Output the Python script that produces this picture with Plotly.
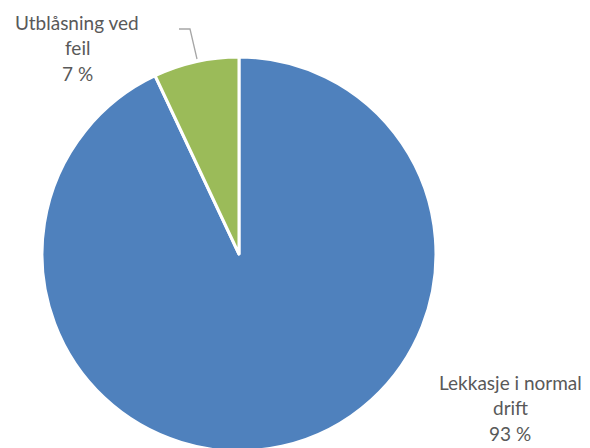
import plotly.graph_objects as go

# Data
categories = ["Lekkasje i normal drift", "Utblåsning ved feil"]
values = [93, 7]
label_lines = [["Lekkasje i normal", "drift"], ["Utblåsning ved", "feil"]]
percent_text = ["93 %", "7 %"]
colors = ["#4F81BD", "#9BBB59"]

W, H = 590, 448
OFF = 8  # page body margin offset


def px(x, y):
    return (x - OFF) / W, 1 - (y - OFF) / H


fig = go.Figure(go.Pie(
    labels=categories,
    values=values,
    sort=False,
    direction="clockwise",
    rotation=0,
    marker=dict(colors=colors, line=dict(color="white", width=3)),
    textinfo="none",
    hoverinfo="label+percent",
    showlegend=False,
    domain=dict(x=[0.0576, 0.7254], y=[0.0112, 0.8906]),
))

label_pos = [(510, 382), (77, 22)]
line_gap = 25.5
font = dict(family="Lato, Open Sans, sans-serif", size=19, color="#595959")
for (cx, cy), lines, pct in zip(label_pos, label_lines, percent_text):
    for i, t in enumerate(lines + [pct]):
        x, y = px(cx, cy + i * line_gap)
        fig.add_annotation(
            x=x, y=y, xref="paper", yref="paper",
            text=t, showarrow=False, xanchor="center", yanchor="middle", font=font,
        )

pts = [(179, 29), (190, 29), (197, 59)]
path = "M " + " L ".join("{} {}".format(*px(x, y)) for x, y in pts)
fig.add_shape(type="path", path=path, xref="paper", yref="paper",
              line=dict(color="#A6A6A6", width=1.3))

fig.update_layout(
    width=W, height=H,
    margin=dict(l=0, r=0, t=0, b=0),
    paper_bgcolor="white", plot_bgcolor="white",
)

fig.write_html("out.html")
